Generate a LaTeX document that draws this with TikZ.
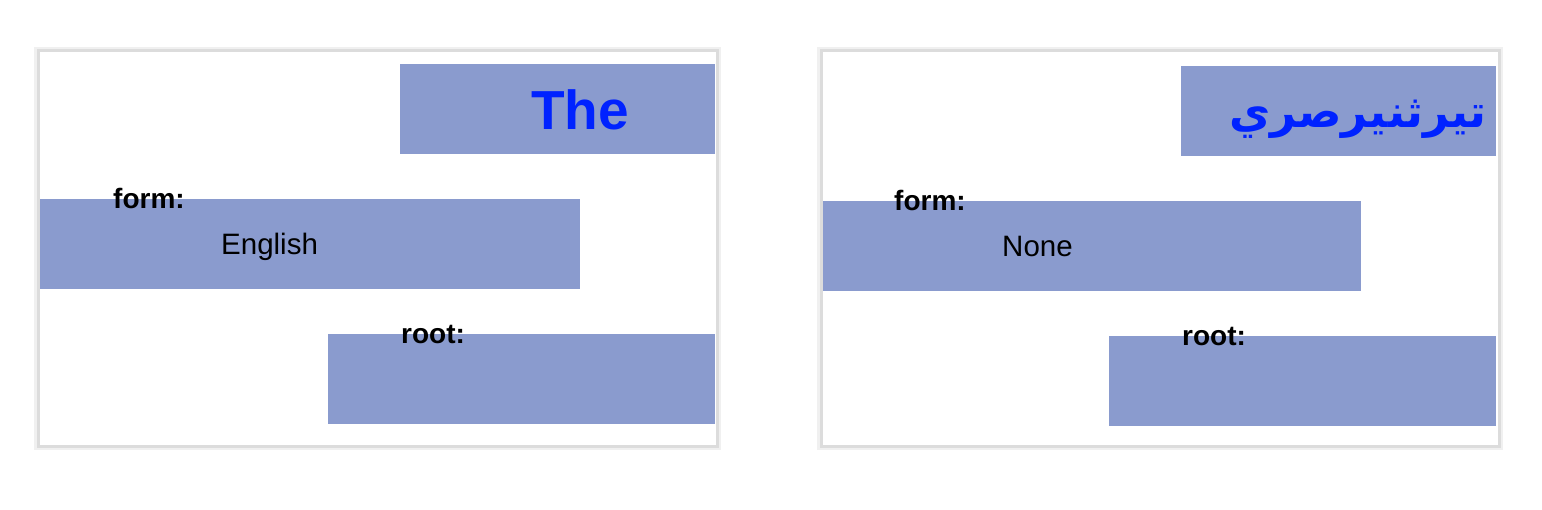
\documentclass[tikz,border=0pt]{standalone}
\usepackage{fontspec}
\setmainfont{Liberation Sans}
\TeXXeTstate=1
\newfontfamily\arabicfont[Script=Arabic]{DejaVu Sans}
\definecolor{boxfill}{HTML}{8A9BCE}
\definecolor{titleblue}{HTML}{0022FF}
\definecolor{cardedge}{HTML}{DCDCDC}
\definecolor{cardshadow}{HTML}{F0F0F0}
\tikzset{
  card/.style={draw=cardedge, line width=3pt, fill=white},
  cardshade/.style={draw=cardshadow, line width=8pt},
  band/.style={fill=boxfill, draw=none},
  lbl/.style={font=\fontsize{28}{31}\selectfont\bfseries, inner sep=0pt, anchor=base west},
  val/.style={font=\fontsize{29.5}{32}\selectfont, inner sep=0pt, anchor=base west},
  ttl/.style={font=\fontsize{55}{60}\selectfont\bfseries, text=titleblue, inner sep=0pt, anchor=base west},
}
\begin{document}
\begin{tikzpicture}[x=1pt,y=-1pt]
\useasboundingbox (0,0) rectangle (1542,510);
% card 1
\draw[cardshade] (38,51) rectangle (717,446);
\draw[card] (38,51) rectangle (717,446);
\path[band] (400,64) rectangle (715,154);
\path[band] (40,199) rectangle (580,289);
\path[band] (328,334) rectangle (715,424);
\node[ttl] (t1) at (531,130) {The};
\node[lbl] (f1) at (113,209) {form:};
\node[val] (v1) at (221,255) {English};
\node[lbl] (r1) at (401,344) {root:};
% card 2
\draw[cardshade] (821,51) rectangle (1499,446);
\draw[card] (821,51) rectangle (1499,446);
\path[band] (1181,66) rectangle (1496,156);
\path[band] (823,201) rectangle (1361,291);
\path[band] (1109,336) rectangle (1496,426);
\node[font=\fontsize{45}{50}\selectfont\arabicfont\bfseries, text=titleblue, inner sep=0pt, anchor=base east] (t2) at (1487,128) {\beginR تيرثنيرصري\endR};
\node[lbl] (f2) at (894,211) {form:};
\node[val] (v2) at (1002,257) {None};
\node[lbl] (r2) at (1182,346) {root:};
\end{tikzpicture}
\end{document}
